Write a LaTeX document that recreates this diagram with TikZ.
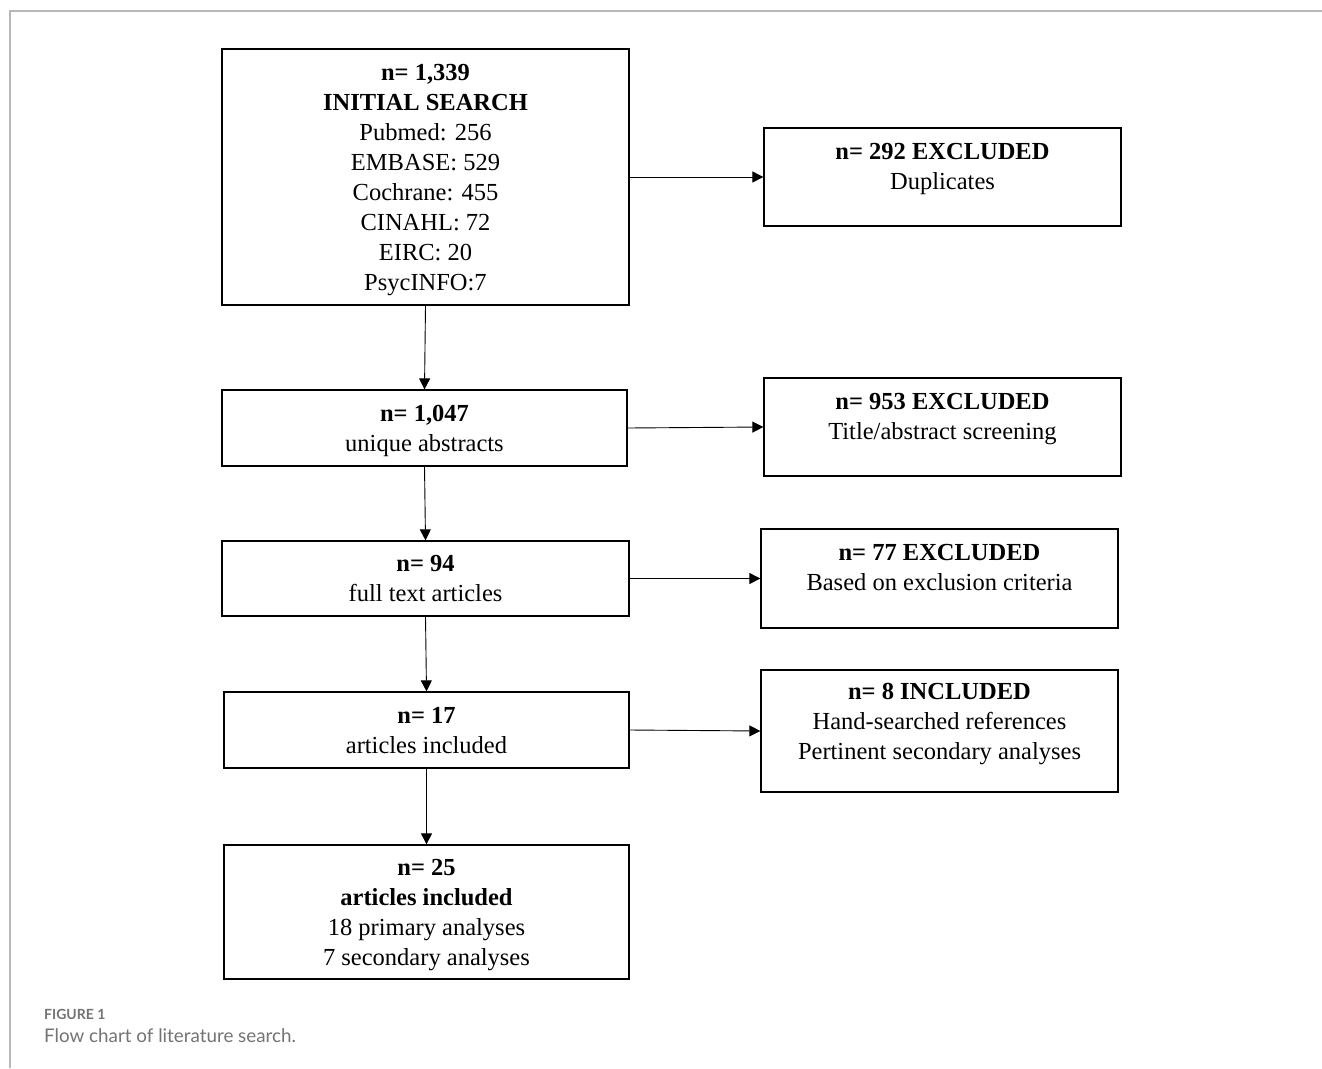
\documentclass[tikz,border=0pt]{standalone}
\usepackage{fontspec}
\setmainfont{Liberation Serif}
\newfontfamily\capfont{Lato}
\usetikzlibrary{arrows.meta}
\colorlet{box edge}{black}
\colorlet{frame edge}{black!28}
\colorlet{caption text}{black!55}
\tikzset{
  stage/.style={draw=box edge, line width=1.3pt, align=center, inner sep=0pt,
    text depth=0pt, font=\fontsize{24.5}{30}\selectfont},
  sidebox/.style={draw=box edge, line width=1.3pt, minimum width=357pt, inner sep=0pt},
  sidetext/.style={anchor=north, align=center, inner sep=0pt, yshift=-16pt,
    font=\fontsize{24.5}{30}\selectfont},
  flow/.style={draw=black, line width=0.9pt, -{Triangle[length=11pt, width=11pt]}},
  frame/.style={draw=frame edge, line width=2pt}
}

\begin{document}
\begin{tikzpicture}[x=1pt, y=-1pt]
    \useasboundingbox (0,0) rectangle (1322,1068);
    \draw[frame] (10,1068) -- (10,11) -- (1322,11);
    % main column
    \node[stage, minimum width=407pt, minimum height=256pt] (search) at (425.5,177)
      {\textbf{n= 1,339}\\ \textbf{INITIAL SEARCH}\\ Pubmed: 256\\ EMBASE: 529\\
       Cochrane: 455\\ CINAHL: 72\\ EIRC: 20\\ PsycINFO:7};
    \node[stage, minimum width=405pt, minimum height=76pt] (unique) at (424.5,428)
      {\textbf{n= 1,047}\\ unique abstracts};
    \node[stage, minimum width=407pt, minimum height=75pt] (fulltext) at (425.5,578.5)
      {\textbf{n= 94}\\ full text articles};
    \node[stage, minimum width=405pt, minimum height=76pt] (incl) at (426.5,730)
      {\textbf{n= 17}\\ articles included};
    \node[stage, minimum width=405pt, minimum height=134pt] (final) at (426.5,912)
      {\textbf{n= 25}\\ \textbf{articles included}\\ 18 primary analyses\\ 7 secondary analyses};
    % side boxes
    \node[sidebox, minimum height=98pt] (dupes) at (942.5,177) {};
    \node[sidetext] (dupes text) at (dupes.north) {\textbf{n= 292 EXCLUDED}\\ Duplicates};
    \node[sidebox, minimum height=98pt] (screen) at (942.5,427) {};
    \node[sidetext] (screen text) at (screen.north) {\textbf{n= 953 EXCLUDED}\\ Title/abstract screening};
    \node[sidebox, minimum height=99pt] (criteria) at (939.5,578.5) {};
    \node[sidetext] (criteria text) at (criteria.north) {\textbf{n= 77 EXCLUDED}\\ Based on exclusion criteria};
    \node[sidebox, minimum height=122pt] (hand) at (939.5,731) {};
    \node[sidetext, yshift=2pt] (hand text) at (hand.north)
      {\textbf{n= 8 INCLUDED}\\ Hand-searched references\\ Pertinent secondary analyses};
    % connectors
    \draw[flow] (search.south) -- (unique.north);
    \draw[flow] (unique.south) -- (fulltext.north);
    \draw[flow] (fulltext.south) -- (incl.north);
    \draw[flow] (incl.south) -- (final.north);
    \draw[flow] (search.east) -- (dupes.west);
    \draw[flow] (unique.east) -- (screen.west);
    \draw[flow] (fulltext.east) -- (criteria.west);
    \draw[flow] (incl.east) -- (hand.west);
    % caption
    \node[anchor=base west, text=caption text, font=\capfont\bfseries\fontsize{14}{16}\selectfont,
      inner sep=0pt] (figno) at (44,1019) {FIGURE 1};
    \node[anchor=base west, text=caption text, font=\capfont\fontsize{18.8}{22}\selectfont,
      inner sep=0pt] (figcap) at (44,1042) {Flow chart of literature search.};
\end{tikzpicture}
\end{document}
